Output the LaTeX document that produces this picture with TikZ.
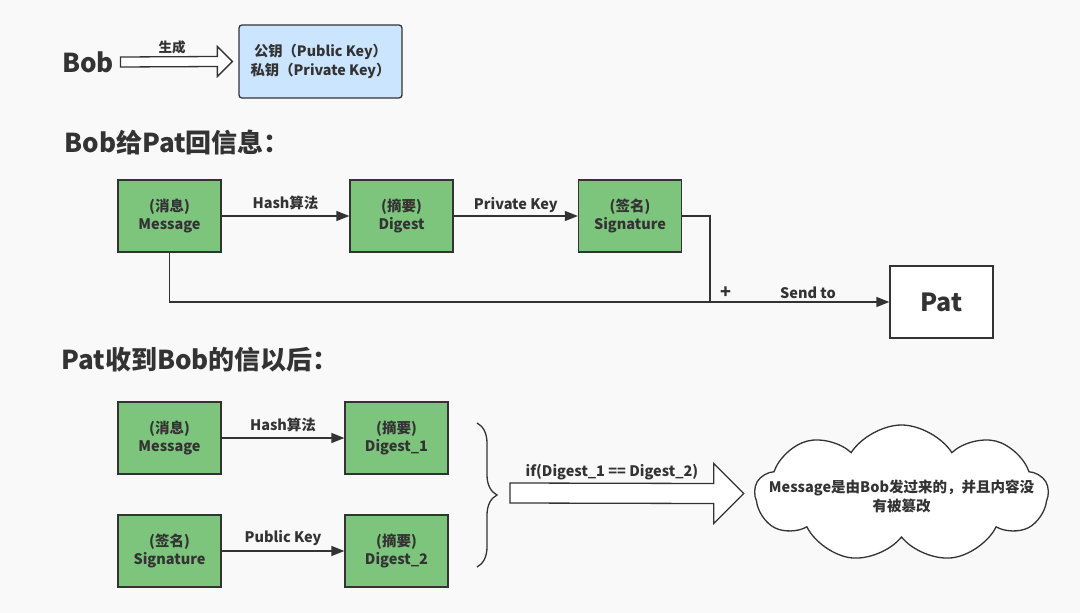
\documentclass[tikz,border=0pt]{standalone}
\usepackage{fontspec}
\setmainfont{Noto Sans CJK SC}
\usetikzlibrary{arrows.meta,calc,positioning,shapes.symbols,decorations.pathreplacing}

\definecolor{boxgreen}{HTML}{7DC47D}
\definecolor{keyblue}{HTML}{CCE5FF}
\definecolor{inkgray}{HTML}{333333}
\definecolor{paper}{HTML}{F9F9F9}

\begin{document}
\begin{tikzpicture}[
  x=1pt, y=-1pt,
  color=inkgray,
  font=\fontsize{14.5}{18}\selectfont\bfseries,
  box/.style={draw, fill=boxgreen, line width=1.3pt, minimum width=103pt, minimum height=72pt, align=center, inner sep=2pt},
  keybox/.style={draw, fill=keyblue, line width=1.3pt, rounded corners=3pt, minimum width=163pt, minimum height=73pt, align=center, font=\fontsize{14.3}{19}\selectfont\bfseries},
  arr/.style={-{Triangle[length=13pt,width=10pt]}, line width=1.3pt},
  line/.style={line width=1.3pt},
  hollow/.style={draw, fill=white, line width=1.3pt, line join=miter},
  lbl/.style={anchor=south, inner sep=3pt},
  head/.style={font=\fontsize{26}{30}\selectfont\bfseries, anchor=west}
]

% Canvas
\fill[paper] (0,0) rectangle (1080,613);
\useasboundingbox (0,0) rectangle (1080,613);

% Key generation
\node[font=\fontsize{26}{30}\selectfont\bfseries] (bob) at (88,62) {Bob};
\node[keybox] (keys) at (320.5,61.5) {公钥（Public Key）\\私钥（Private Key）};
\draw[hollow] ($(bob.east)+(3,-5)$) -- ($(keys.west)+(-21,-5)$) -- ($(keys.west)+(-21,-15)$)
  -- ($(keys.west)+(-6,0)$) -- ($(keys.west)+(-21,15)$) -- ($(keys.west)+(-21,5)$)
  -- ($(bob.east)+(3,5)$) -- cycle;
\node[font=\fontsize{13.5}{15}\selectfont\bfseries] (gen) at (172,47) {生成};

% Bob signs and sends
\node[head] (h1) at (61,143) {Bob给Pat回信息：};
\node[box] (msg) at (169.5,216) {(消息)\\Message};
\node[box] (dig) at (401.5,216) {(摘要)\\Digest};
\node[box] (sig) at (630,216) {(签名)\\Signature};
\node[box, fill=white, font=\fontsize{25}{28}\selectfont\bfseries] (pat) at (941.5,302) {Pat};
\coordinate (join) at (710,302);

\draw[arr] (msg) -- node[lbl, yshift=2pt] {Hash算法} (dig);
\draw[arr] (dig) -- node[lbl] {Private Key} (sig);
\draw[line] (sig.east) -| (join);
\draw[arr] (msg.south) |- (pat.west);
\node[lbl, font=\fontsize{18}{20}\selectfont\bfseries] (plus) at (726,302) {+};
\node[lbl] (sendto) at (808,302) {Send to};

% Pat verifies
\node[head] (h2) at (58,360) {Pat收到Bob的信以后：};
\node[box] (msgb) at (169.5,438) {(消息)\\Message};
\node[box] (dig1) at (396.5,438) {(摘要)\\Digest\_1};
\node[box] (sigb) at (169.5,551) {(签名)\\Signature};
\node[box] (dig2) at (396.5,551) {(摘要)\\Digest\_2};

\draw[arr] (msgb) -- node[lbl, yshift=2pt] {Hash算法} (dig1);
\draw[arr] (sigb) -- node[lbl, yshift=2pt] {Public Key} (dig2);

\draw[line, decorate, decoration={brace, amplitude=20pt}] (477,423) -- (477,567);
\coordinate (cmp) at (510,493);

\node[cloud, draw, fill=white, line width=1.3pt, cloud puffs=9, cloud puff arc=115,
  aspect=2.14, inner sep=0pt, minimum width=293pt, minimum height=137pt] (verdict) at (901.5,493.5) {};
\node[align=center, font=\fontsize{14.5}{19}\selectfont\bfseries] (verdicttext) at ($(verdict.center)+(0,3)$)
  {Message是由Bob发过来的，并且内容没\\有被篡改};

\draw[hollow] ($(cmp)+(0,-10)$) -- ($(verdict.west)+(-40,-10)$) -- ($(verdict.west)+(-40,-30)$)
  -- ($(verdict.west)+(-10,0)$) -- ($(verdict.west)+(-40,30)$) -- ($(verdict.west)+(-40,10)$)
  -- ($(cmp)+(0,10)$) -- cycle;
\node[lbl] (cond) at (612,483) {if(Digest\_1 == Digest\_2)};

\end{tikzpicture}
\end{document}
